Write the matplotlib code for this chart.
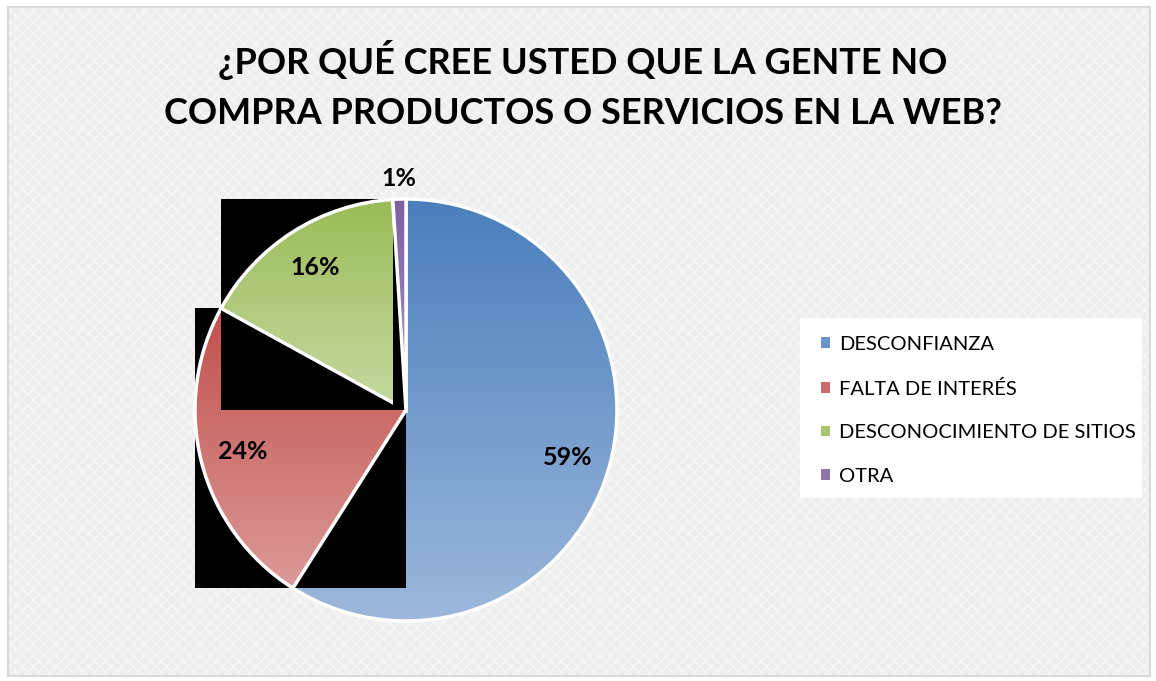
import matplotlib.pyplot as plt
import numpy as np
from matplotlib.patches import Rectangle, Patch
from matplotlib.colors import LinearSegmentedColormap

# survey answers (percent)
categories = ['DESCONFIANZA', 'FALTA DE INTERÉS', 'DESCONOCIMIENTO DE SITIOS', 'OTRA']
values = [59, 24, 16, 1]
title = '¿POR QUÉ CREE USTED QUE LA GENTE NO\nCOMPRA PRODUCTOS O SERVICIOS EN LA WEB?'

# gradient colours (top -> bottom) for each slice
grad_top = ['#4A7EBB', '#C0504D', '#9BBB59', '#7D60A0']
grad_bot = ['#9DB8DC', '#DC9A98', '#C6D9A0', '#A896C4']
legend_cols = ['#6A93CB', '#CB6B69', '#A9C46F', '#8E76AD']

W, H = 1156, 681
fig = plt.figure(figsize=(W / 100, H / 100), dpi=100)
fig.patch.set_facecolor('white')

def fx(x):
    return x / W

def fy(y):
    return 1 - y / H

# chart area background with light texture and border
plt.rcParams['hatch.linewidth'] = 1.0
bg = Rectangle((fx(8), fy(676)), fx(1150) - fx(8), fy(7) - fy(676), transform=fig.transFigure,
               facecolor='#EEEEEE', edgecolor='#F6F6F6', hatch='xxx', lw=0, zorder=-2)
fig.patches.append(bg)
border = Rectangle((fx(8), fy(676)), fx(1150) - fx(8), fy(7) - fy(676), transform=fig.transFigure,
                   facecolor='none', edgecolor='#D9D9D9', lw=1.5, zorder=-1)
fig.patches.append(border)

fig.text(fx(583), fy(85), title, ha='center', va='center', fontsize=26, fontweight='bold',
         family='Lato', linespacing=1.62, color='black')

# pie axes: centre at (406, 410) px, radius 211 px
R = 211
half = 250
ax = fig.add_axes([fx(406 - half), fy(410 + half), 2 * half / W, 2 * half / H])
ax.set_facecolor('none')

wedges, texts, autotexts = ax.pie(values, startangle=90, counterclock=False, autopct='%1.0f%%',
                                  pctdistance=0.8,
                                  wedgeprops=dict(edgecolor='white', linewidth=2.5),
                                  textprops=dict(fontsize=18, fontweight='bold', family='Lato'))

grad = np.linspace(0, 1, 256).reshape(-1, 1)
for i, w in enumerate(wedges):
    z = 1 + 2 * i
    bb = w.get_path().get_extents()
    if i > 0:
        # black box behind the slice, as in the source image
        ax.add_patch(Rectangle((bb.x0, bb.y0), bb.width, bb.height, facecolor='black',
                               edgecolor='none', zorder=z))
    cmap = LinearSegmentedColormap.from_list('g%d' % i, [grad_top[i], grad_bot[i]])
    im = ax.imshow(grad, cmap=cmap, extent=(bb.x0, bb.x1, bb.y0, bb.y1), origin='upper',
                   aspect='auto', zorder=z + 0.5)
    im.set_clip_path(w)
    w.set_facecolor('none')
    w.set_zorder(z + 0.6)

for t in autotexts:
    t.set_zorder(20)

# small slice: label outside
w = wedges[3]
mid = np.deg2rad((w.theta1 + w.theta2) / 2)
autotexts[3].set_position((1.1 * np.cos(mid), 1.1 * np.sin(mid)))

ax.set_xlim(-half / R, half / R)
ax.set_ylim(-half / R, half / R)
ax.set_aspect('equal')
ax.axis('off')

# legend
fig.patches.append(Rectangle((fx(800), fy(498)), fx(1142) - fx(800), fy(318) - fy(498),
                             transform=fig.transFigure, facecolor='white', edgecolor='none', zorder=2))
handles = [Patch(facecolor=c, edgecolor='none') for c in legend_cols]
leg = fig.legend(handles, categories, loc='upper left', bbox_to_anchor=(fx(813), fy(328)),
                 frameon=False, prop=dict(family='Lato', size=14.5), handlelength=0.45,
                 handleheight=0.45, labelspacing=1.32, handletextpad=0.45, borderaxespad=0)
leg.set_zorder(3)

fig.savefig('out.png', dpi=100, facecolor=fig.get_facecolor())
